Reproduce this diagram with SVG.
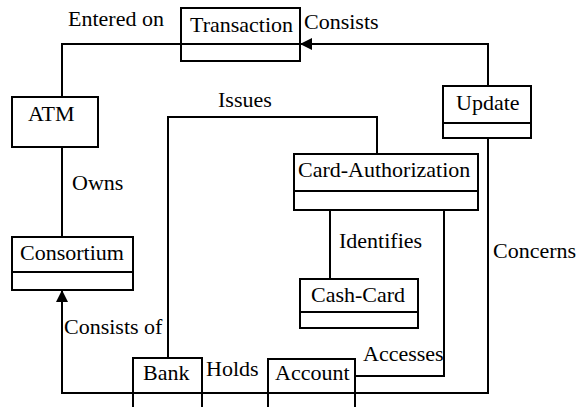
<svg xmlns="http://www.w3.org/2000/svg" width="587" height="407" viewBox="0 0 587 407">
  <style>
    .box { fill: #fff; stroke: #000; stroke-width: 2; }
    .div { stroke: #000; stroke-width: 2; }
    .wire { fill: none; stroke: #000; stroke-width: 2; }
    text { font-family: 'Liberation Serif', Tinos, 'Times New Roman', Times, 'DejaVu Serif', serif; font-size: 22px; fill: #000; }
  </style>
  <defs>
    <marker id="arrow" viewBox="0 0 12 12" refX="12" refY="6" markerWidth="12" markerHeight="12" markerUnits="userSpaceOnUse" orient="auto">
      <path d="M0,0 L12,6 L0,12 Z" fill="#000"/>
    </marker>
  </defs>

  <!-- associations -->
  <g id="connectors">
    <!-- ATM entered on Transaction -->
    <polyline class="wire" points="62,97 62,44 181,44"/>
    <!-- Update consists of Transaction -->
    <polyline class="wire" points="488,86 488,44 300,44" marker-end="url(#arrow)"/>
    <!-- Consortium owns ATM -->
    <line class="wire" x1="62" y1="147" x2="62" y2="237"/>
    <!-- Bank issues Card-Authorization -->
    <polyline class="wire" points="168,358 168,117 377,117 377,154"/>
    <!-- Card-Authorization identifies Cash-Card -->
    <line class="wire" x1="330" y1="210" x2="330" y2="279"/>
    <!-- Card-Authorization accesses Account -->
    <polyline class="wire" points="444,205 444,376 355,376"/>
    <!-- Update concerns Account; Consortium consists of Bank -->
    <polyline class="wire" points="488,138 488,393 62,393 62,290" marker-end="url(#arrow)"/>
  </g>

  <g id="transaction">
    <rect class="box" x="181" y="8" width="119" height="53"/>
    <line class="div" x1="181" y1="44" x2="300" y2="44"/>
    <text x="190" y="32" font-family="Liberation Serif, serif">Transaction</text>
  </g>

  <g id="update">
    <rect class="box" x="443" y="86" width="88" height="52"/>
    <line class="div" x1="443" y1="123" x2="531" y2="123"/>
    <text x="456" y="110">Update</text>
  </g>

  <g id="atm">
    <rect class="box" x="12" y="97" width="86" height="50"/>
    <text x="28" y="121">ATM</text>
  </g>

  <g id="consortium">
    <rect class="box" x="12" y="237" width="121" height="53"/>
    <line class="div" x1="12" y1="272" x2="133" y2="272"/>
    <text x="20" y="260">Consortium</text>
  </g>

  <g id="card-authorization">
    <rect class="box" x="294" y="154" width="184" height="56"/>
    <line class="div" x1="294" y1="191" x2="478" y2="191"/>
    <text x="298" y="177">Card-Authorization</text>
  </g>

  <g id="cash-card">
    <rect class="box" x="300" y="279" width="118" height="49"/>
    <line class="div" x1="300" y1="312" x2="418" y2="312"/>
    <text x="311" y="302">Cash-Card</text>
  </g>

  <g id="bank">
    <rect class="box" x="133" y="358" width="69" height="60"/>
    <line class="div" x1="133" y1="393" x2="202" y2="393"/>
    <text x="143" y="380">Bank</text>
  </g>

  <g id="account">
    <rect class="box" x="268" y="359" width="87" height="60"/>
    <line class="div" x1="268" y1="393" x2="355" y2="393"/>
    <text x="275" y="380">Account</text>
  </g>

  <!-- association labels -->
  <g id="labels">
    <text x="68" y="26">Entered on</text>
    <text x="304" y="29">Consists</text>
    <text x="218" y="107">Issues</text>
    <text x="72" y="190">Owns</text>
    <text x="339" y="248">Identifies</text>
    <text x="493" y="258">Concerns</text>
    <text x="64" y="334">Consists of</text>
    <text x="363" y="361">Accesses</text>
    <text x="206" y="376">Holds</text>
  </g>
</svg>
